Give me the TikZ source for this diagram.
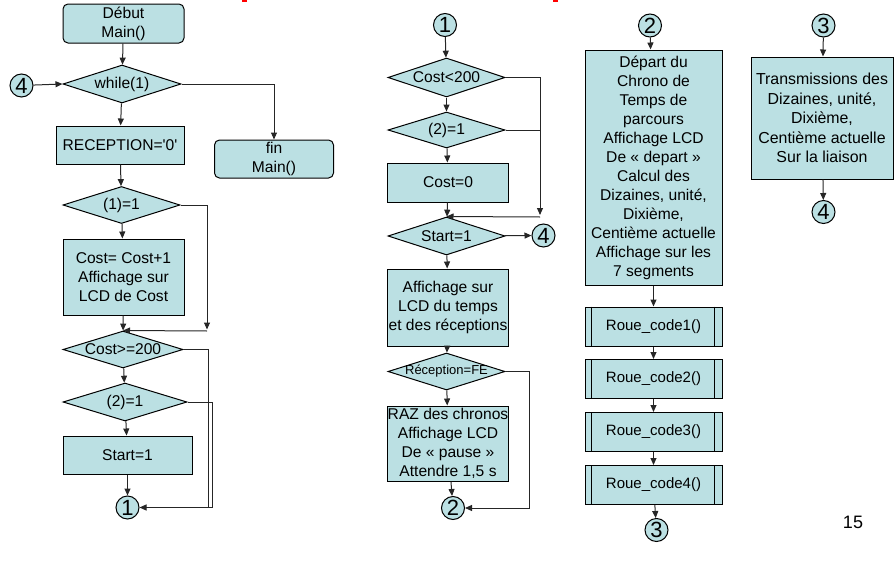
\documentclass[tikz,border=0pt]{standalone}
\usepackage{fontspec}
\setmainfont{Liberation Sans}[Ligatures=TeXOff]
\usetikzlibrary{shapes.geometric,arrows.meta}
\definecolor{fillb}{HTML}{BBE0E3}
\definecolor{lineg}{HTML}{262626}
\newcommand\dtxt[1]{\makebox[0pt]{#1}}
\begin{document}
\begin{tikzpicture}[x=1pt,y=-1pt,
  box/.style={draw=black, line width=1pt, fill=fillb, inner sep=0pt, align=center,
    font=\fontsize{15.6}{19}\selectfont},
  rbox/.style={box, rounded corners=5pt},
  pbox/.style={box, minimum width=137pt, minimum height=39pt, font=\fontsize{15}{18}\selectfont},
  dec/.style={diamond, draw=black, line width=1pt, fill=fillb, inner sep=0pt, aspect=3,
    font=\fontsize{15.6}{19}\selectfont},
  conn/.style={circle, draw=black, line width=1pt, fill=fillb, inner sep=0pt,
    minimum size=23pt, font=\fontsize{22}{22}\selectfont},
  arr/.style={draw=lineg, line width=1pt, -{Triangle[length=7pt,width=6pt]}},
  ln/.style={draw=lineg, line width=1pt}]
\useasboundingbox (0,0) rectangle (895,562);

% red fragments of a cropped title
\fill[red] (242,0) rectangle (247,1.5);
\fill[red] (553,0) rectangle (558,1.5);

% ---------------- column 1 ----------------
\node[rbox, minimum width=121pt, minimum height=39pt] (debut) at (123.5,23.5) {Début\\Main()};
\node[dec, minimum width=118pt, minimum height=38pt] (while) at (122,84) {\dtxt{while(1)}};
\node[conn] (c4a) at (21.5,85.5) {4};
\node[rbox, minimum width=119pt, minimum height=38pt] (fin) at (274,159) {fin\\Main()};
\node[box, minimum width=128pt, minimum height=38pt] (recep) at (120,145) {RECEPTION='0'};
\node[dec, minimum width=117pt, minimum height=37pt] (d1) at (121.5,205) {\dtxt{(1)=1}};
\node[box, minimum width=121pt, minimum height=76pt] (cost) at (123.5,277) {Cost= Cost+1\\Affichage sur\\LCD de Cost};
\node[dec, minimum width=120pt, minimum height=37pt] (dge) at (123,349.5) {\dtxt{Cost>=200}};
\node[dec, minimum width=124pt, minimum height=38pt] (d2) at (125,402) {\dtxt{(2)=1}};
\node[box, minimum width=129pt, minimum height=38pt] (start) at (127.5,455) {Start=1};
\node[conn] (c1a) at (127.5,507.5) {1};

\coordinate (j1) at (207,329.5);
\coordinate (j1b) at (207,331);
\coordinate (j2) at (208,507.5);
\coordinate (j3) at (212,507.5);

\draw[arr] (debut) -- (while);
\draw[arr] (c4a) -- (while.west);
\draw[arr] (while.east) -| (fin.north);
\draw[arr] (while) -- (recep);
\draw[arr] (recep) -- (d1);
\draw[arr] (d1) -- (cost);
\draw[arr] (d1.east) -| (j1);
\draw[arr] (j1b) -- (dge.north);
\draw[arr] (cost) -- (dge);
\draw[ln] (dge.east) -| (j2);
\draw[arr] (dge) -- (d2);
\draw[arr] (d2) -- (start);
\draw[arr] (start) -- (c1a);
\draw[arr] (d2.east) -| (j3) -- (c1a.east);

% ---------------- column 2 ----------------
\node[conn] (c1b) at (445,25) {1};
\node[dec, minimum width=117pt, minimum height=39pt] (dlt) at (446.5,77.5) {\dtxt{Cost<200}};
\node[dec, minimum width=117pt, minimum height=36pt] (d2b) at (446.5,130) {\dtxt{(2)=1}};
\node[box, minimum width=121pt, minimum height=39pt] (cost0) at (448,182.5) {Cost=0};
\node[dec, minimum width=117pt, minimum height=38pt] (dstart) at (446.5,236) {\dtxt{Start=1}};
\node[conn] (c4b) at (543.5,235.5) {4};
\node[box, minimum width=121pt, minimum height=77pt] (aff) at (448,307.5) {Affichage sur\\LCD du temps\\et des réceptions};
\node[dec, minimum width=117pt, minimum height=37pt, font=\fontsize{13}{15}\selectfont] (drec) at (446.5,371.5) {\dtxt{Réception=FE}};
\node[box, minimum width=121pt, minimum height=75pt] (raz) at (448,443.5) {RAZ des chronos\\Affichage LCD\\De « pause »\\Attendre 1,5 s};
\node[conn] (c2b) at (453,508) {2};

\coordinate (j4) at (540,215);
\coordinate (j4b) at (540,130);
\coordinate (j5) at (540,217);
\coordinate (j6) at (529,508);

\draw[arr] (c1b) -- (dlt);
\draw[arr] (dlt) -- (d2b);
\draw[arr] (d2b) -- (cost0);
\draw[arr] (dlt.east) -| (j4);
\draw[ln] (d2b.east) -- (j4b);
\draw[arr] (j5) -- (dstart.north);
\draw[arr] (cost0) -- (dstart);
\draw[arr] (dstart) -- (c4b);
\draw[arr] (dstart) -- (aff);
\draw[arr] (aff) -- (drec);
\draw[arr] (drec) -- (raz);
\draw[arr] (raz) -- (c2b);
\draw[arr] (drec.east) -| (j6) -- (c2b.east);

% ---------------- column 3 ----------------
\node[conn] (c2c) at (650,25.5) {2};
\node[box, minimum width=137pt, minimum height=235pt] (big) at (653.5,167.5)
  {Départ du\\Chrono de\\Temps de\\parcours\\Affichage LCD\\De « depart »\\Calcul des\\Dizaines, unité,\\Dixième,\\Centième actuelle\\Affichage sur les\\7 segments};
\node[pbox] (r1) at (653.5,326.5) {Roue\_code1()};
\node[pbox] (r2) at (653.5,379) {Roue\_code2()};
\node[pbox] (r3) at (653.5,432) {Roue\_code3()};
\node[pbox] (r4) at (653.5,485) {Roue\_code4()};
\foreach \r in {r1,r2,r3,r4}{
  \draw[line width=1pt] ([xshift=7pt]\r.north west) -- ([xshift=7pt]\r.south west);
  \draw[line width=1pt] ([xshift=-8pt]\r.north east) -- ([xshift=-8pt]\r.south east);
}
\node[conn] (c3c) at (656.5,530) {3};

\draw[arr] (c2c) -- (big);
\draw[arr] (big) -- (r1);
\draw[arr] (r1) -- (r2);
\draw[arr] (r2) -- (r3);
\draw[arr] (r3) -- (r4);
\draw[arr] (r4) -- (c3c);

% ---------------- column 4 ----------------
\node[conn] (c3d) at (823.5,25.5) {3};
\node[box, minimum width=142pt, minimum height=122pt, font=\fontsize{15.9}{19.5}\selectfont] (trans) at (822,118)
  {Transmissions des\\Dizaines, unité,\\Dixième,\\Centième actuelle\\Sur la liaison};
\node[conn] (c4d) at (823.5,212) {4};
\draw[arr] (c3d) -- (trans);
\draw[arr] (trans) -- (c4d);

\node[font=\fontsize{18}{18}\selectfont, inner sep=0pt] (page) at (853,522) {15};
\end{tikzpicture}
\end{document}
